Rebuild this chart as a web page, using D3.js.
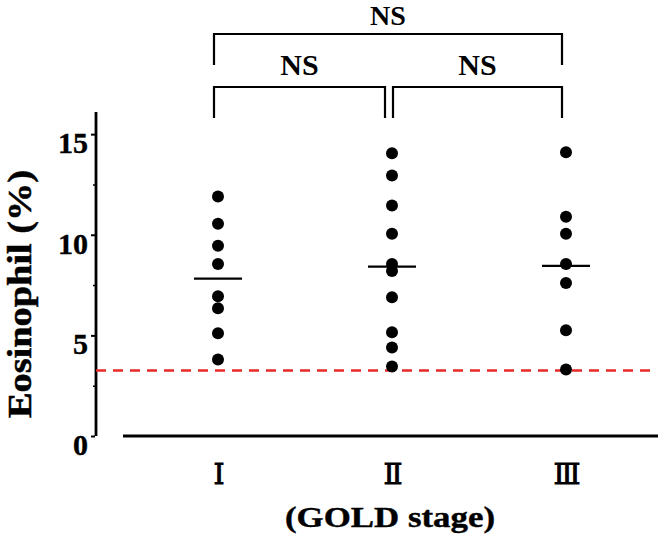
<!DOCTYPE html>
<html>
<head>
<meta charset="utf-8">
<script src="https://cdn.jsdelivr.net/npm/d3@7"></script>
<style>
  html, body { margin: 0; padding: 0; background: #fff; }
  svg { display: block; }
  text { font-family: "Liberation Serif", "Times New Roman", serif; }
</style>
</head>
<body>
<svg id="chart" width="658" height="534"></svg>
<script>
// ---- data ----
const categories = ["Ⅰ", "Ⅱ", "Ⅲ"];
const stageI   = [11.9, 10.55, 9.45, 8.55, 6.95, 6.35, 5.1, 3.8];
const stageII  = [14.05, 12.95, 11.45, 10.05, 8.55, 8.2, 6.9, 5.15, 4.4, 3.45];
const stageIII = [14.1, 10.9, 10.05, 8.55, 7.6, 5.25, 3.3];
const means    = [7.82, 8.42, 8.45];
const threshold = 3.25;
const yTicks = [0, 5, 10, 15];
const yMinorTicks = [2.5, 7.5, 12.5];
const comparisons = [
  { from: "Ⅰ", to: "Ⅲ", label: "NS", level: 0 },
  { from: "Ⅰ", to: "Ⅱ", label: "NS", level: 1 },
  { from: "Ⅱ", to: "Ⅲ", label: "NS", level: 1 }
];
const yTitle = "Eosinophil (%)";
const xTitle = "(GOLD stage)";

const series = [stageI, stageII, stageIII];

// ---- scales ----
const svg = d3.select("#chart");
const x = d3.scalePoint().domain(categories).range([218, 566]);
const y = d3.scaleLinear().domain([0, 16.1]).range([436, 112]);

// ---- axes ----
svg.append("line")
  .attr("x1", 96).attr("x2", 96)
  .attr("y1", y(16.1)).attr("y2", y(0))
  .attr("stroke", "#000").attr("stroke-width", 2.8);

svg.append("line")
  .attr("x1", 123).attr("x2", 658)
  .attr("y1", y(0)).attr("y2", y(0))
  .attr("stroke", "#000").attr("stroke-width", 3);

const yAxisG = svg.append("g").attr("transform", "translate(95,0)");
yAxisG.call(d3.axisLeft(y).tickValues(yTicks).tickSize(4).tickFormat(""))
  .call(g => g.select(".domain").remove())
  .call(g => g.selectAll("line").attr("stroke-width", 2));
yAxisG.append("g").call(d3.axisLeft(y).tickValues(yMinorTicks).tickSize(2).tickFormat(""))
  .call(g => g.select(".domain").remove())
  .call(g => g.selectAll("line").attr("stroke-width", 1.5));

svg.selectAll(".ylab").data(yTicks).enter().append("text")
  .attr("class", "ylab")
  .attr("x", 88).attr("y", d => y(d) + 19)
  .attr("text-anchor", "end")
  .attr("font-size", 30).attr("font-weight", "bold")
  .attr("stroke", "#000").attr("stroke-width", 0.4)
  .text(d => d);

svg.selectAll(".xlab").data(categories).enter().append("text")
  .attr("class", "xlab")
  .attr("x", d => x(d) + 1).attr("y", 484)
  .attr("text-anchor", "middle")
  .attr("font-size", 28)
  .attr("stroke", "#000").attr("stroke-width", 0.9)
  .style("font-family", "'DejaVu Serif', 'Liberation Serif', serif")
  .text(d => d);

// titles
svg.append("text")
  .attr("transform", "translate(31,294) rotate(-90)")
  .attr("text-anchor", "middle")
  .attr("font-size", 33).attr("font-weight", "bold")
  .attr("stroke", "#000").attr("stroke-width", 0.5)
  .attr("textLength", 248).attr("lengthAdjust", "spacingAndGlyphs")
  .text(yTitle);

svg.append("text")
  .attr("x", 390).attr("y", 527)
  .attr("text-anchor", "middle")
  .attr("font-size", 30).attr("font-weight", "bold")
  .attr("stroke", "#000").attr("stroke-width", 0.4)
  .attr("textLength", 210).attr("lengthAdjust", "spacingAndGlyphs")
  .text(xTitle);

// ---- threshold line ----
svg.append("line")
  .attr("x1", 96).attr("x2", 652)
  .attr("y1", y(threshold)).attr("y2", y(threshold))
  .attr("stroke", "#e62a2a").attr("stroke-width", 2.5)
  .attr("stroke-dasharray", "10,7");

// ---- dots ----
series.forEach((vals, i) => {
  svg.append("g").selectAll("circle").data(vals).enter().append("circle")
    .attr("cx", x(categories[i]))
    .attr("cy", d => y(d))
    .attr("r", 6)
    .attr("fill", "#000");
});

// ---- means ----
svg.selectAll(".mean").data(means).enter().append("line")
  .attr("class", "mean")
  .attr("x1", (d, i) => x(categories[i]) - 24)
  .attr("x2", (d, i) => x(categories[i]) + 24)
  .attr("y1", d => y(d)).attr("y2", d => y(d))
  .attr("stroke", "#000").attr("stroke-width", 2.2);

// ---- brackets ----
const levelY = [34, 87];
const levelBottom = [65, 118];
comparisons.forEach(c => {
  let x1 = x(c.from) - 4, x2 = x(c.to) - 4;
  if (c.level === 1 && c.from === "Ⅱ") x1 += 5;
  if (c.level === 1 && c.to === "Ⅱ") x2 -= 3;
  const yt = levelY[c.level], yb = levelBottom[c.level];
  svg.append("path")
    .attr("d", `M${x1},${yb} V${yt} H${x2} V${yb}`)
    .attr("fill", "none").attr("stroke", "#000").attr("stroke-width", 2.2);
  svg.append("text")
    .attr("x", (x1 + x2) / 2).attr("y", c.level === 0 ? 25 : yt - 12)
    .attr("text-anchor", "middle")
    .attr("font-size", c.level === 0 ? 28 : 30).attr("font-weight", "bold")
    .text(c.label);
});
</script>
</body>
</html>
